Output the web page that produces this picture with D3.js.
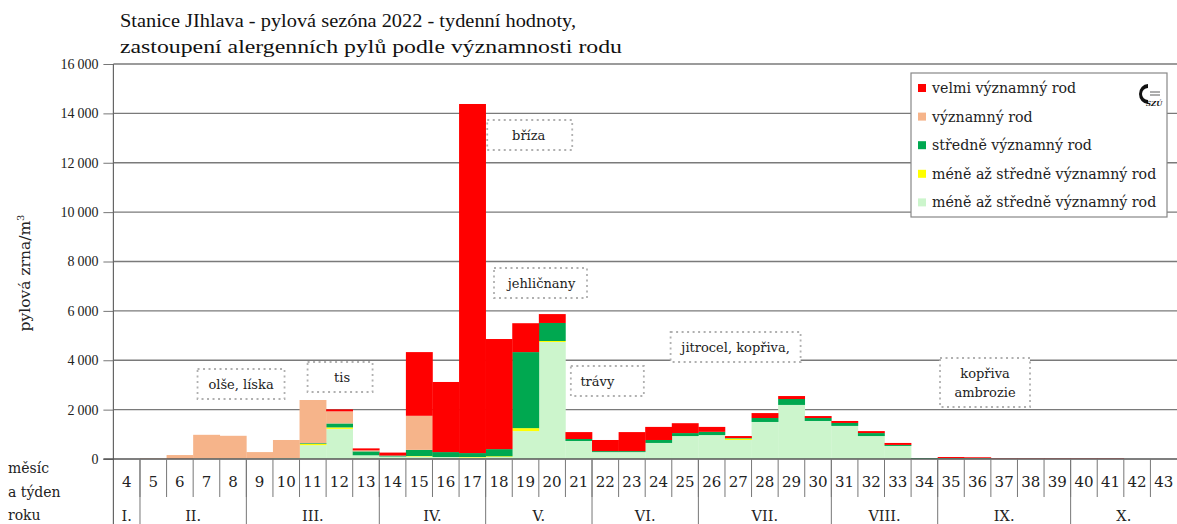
<!DOCTYPE html>
<html><head><meta charset="utf-8">
<script src="https://cdn.jsdelivr.net/npm/d3@7/dist/d3.min.js"></script>
<style>body{margin:0;background:#fff}</style>
</head><body><svg id="c" width="1177" height="524" font-family="DejaVu Serif, serif" style="display:block"></svg>
<script>
const weeks = [4,5,6,7,8,9,10,11,12,13,14,15,16,17,18,19,20,21,22,23,24,25,26,27,28,29,30,31,32,33,34,35,36,37,38,39,40,41,42,43];
const months = [
  {label:"I.", from:4, to:4},{label:"II.", from:5, to:8},{label:"III.", from:9, to:13},
  {label:"IV.", from:14, to:17},{label:"V.", from:18, to:21},{label:"VI.", from:22, to:25},
  {label:"VII.", from:26, to:30},{label:"VIII.", from:31, to:34},{label:"IX.", from:35, to:39},{label:"X.", from:40, to:43}];
// stacked series, bottom to top
const lessToMedium   = [0,0,0,20,20,20,40,560,1220,150,100,100,80,60,80,1130,4740,730,280,280,650,930,970,770,1500,2190,1540,1340,930,530,0,20,20,0,0,0,0,0,0,0];
const lessToMediumY  = [0,0,0,0,0,0,0,50,60,0,0,20,0,20,30,120,40,0,0,0,0,0,0,60,0,0,0,0,0,0,0,0,0,0,0,0,0,0,0,0];
const mediumImportant= [0,0,0,0,0,0,0,30,160,160,40,250,200,160,290,3080,730,80,40,40,120,120,130,20,160,240,120,120,120,40,30,20,20,0,0,0,0,0,0,0];
const important      = [0,20,160,960,920,260,730,1750,490,40,0,1380,0,0,0,0,0,0,0,0,0,0,0,0,0,0,0,0,0,0,0,0,0,0,0,0,0,0,0,0];
const veryImportant  = [0,0,0,0,0,0,0,0,80,80,120,2580,2840,14140,4460,1170,360,280,450,770,530,400,200,80,200,120,80,80,80,80,0,40,30,20,20,20,20,20,0,0];
const yTicks = [0,2000,4000,6000,8000,10000,12000,14000,16000];
const seriesNames = ["velmi významný rod","významný rod","středně významný rod","méně až středně významný rod","méně až středně významný rod"];
const annotations = [
  {text:["olše, líska"], week:8.8},{text:["tis"], week:12.6},{text:["bříza"], week:19.62},
  {text:["jehličnany"], week:20.1},{text:["trávy"], week:22.2},{text:["jitrocel, kopřiva,"], week:27.4},{text:["kopřiva","ambrozie"], week:36.78}];
const annotBase = [389, 382, 140, 288, 386, 352, 378];
const annotBoxW = [87, 65, 85, 93, 73, 130, 90];
const annotBoxShift = [0, -2, 1, -1, 10, 0, 0];

const svg = d3.select("#c");
const pLeft = 113.4, pRight = 1177, pTop = 64, pBottom = 459;
const x = d3.scaleBand().domain(weeks).range([pLeft, pRight]).padding(0);
const y = d3.scaleLinear().domain([0,16000]).range([pBottom, pTop]);

const colors = ["#ccf5cc","#ffff00","#00a850","#f6b48a","#ff0000"];
const keys = ["lg","yl","gr","or","rd"];
const table = weeks.map((w,i)=>({week:w, lg:lessToMedium[i], yl:lessToMediumY[i], gr:mediumImportant[i], or:important[i], rd:veryImportant[i]}));
const stack = d3.stack().keys(keys)(table);

// title
svg.append("text").attr("x",120).attr("y",27).attr("font-size",19).attr("font-family","Liberation Serif, serif").attr("fill","#111")
  .attr("textLength",456).attr("lengthAdjust","spacingAndGlyphs").text("Stanice JIhlava - pylová sezóna 2022 - tydenní hodnoty,");
svg.append("text").attr("x",120).attr("y",53).attr("font-size",19).attr("font-family","Liberation Serif, serif").attr("fill","#111")
  .attr("textLength",502).attr("lengthAdjust","spacingAndGlyphs").text("zastoupení alergenních pylů podle významnosti rodu");

// gridlines + y ticks
const yAxis = d3.axisLeft(y).tickValues(yTicks).tickSize(10).tickFormat(d=>d3.format(",")(d).replace(/,/g,"\u2009"));
const ga = svg.append("g").attr("transform",`translate(${pLeft},0)`).call(yAxis);
ga.attr("font-family",null);
ga.select(".domain").remove();
ga.selectAll(".tick line").attr("stroke","#777");
ga.selectAll(".tick text").attr("font-size",14).attr("font-family","Liberation Serif, serif").attr("fill","#222").attr("x",-15);
svg.append("g").selectAll("line").data(yTicks.filter(d=>d>0)).join("line")
  .attr("x1",pLeft).attr("x2",pRight).attr("y1",d=>y(d)).attr("y2",d=>y(d)).attr("stroke","#7a7a7a").attr("stroke-width",1.3);

// bars
svg.append("g").selectAll("g").data(stack).join("g").attr("fill",(d,i)=>colors[i])
  .selectAll("rect").data(d=>d).join("rect")
  .attr("x",d=>x(d.data.week)).attr("width",x.bandwidth()+0.3)
  .attr("y",d=>y(d[1])).attr("height",d=>Math.max(0,y(d[0])-y(d[1])));

// axis lines
svg.append("line").attr("x1",pLeft).attr("x2",pLeft).attr("y1",pTop).attr("y2",524).attr("stroke","#666").attr("stroke-width",1.2);
svg.append("line").attr("x1",pLeft-10).attr("x2",pRight).attr("y1",pBottom).attr("y2",pBottom).attr("stroke","#555").attr("stroke-width",1.3);

// y title
svg.append("text").attr("transform","translate(30,273) rotate(-90)").attr("text-anchor","middle").attr("font-size",15.5).attr("fill","#222")
  .html('pylová zrna/m<tspan dy="-6" font-size="10">3</tspan>');

// week row
const wk = svg.append("g");
wk.selectAll("line").data(weeks.slice(1)).join("line")
  .attr("x1",d=>x(d)).attr("x2",d=>x(d)).attr("y1",pBottom).attr("y2",497).attr("stroke","#777");
wk.selectAll("text").data(weeks).join("text").attr("x",d=>x(d)+x.bandwidth()/2).attr("y",487).attr("text-anchor","middle")
  .attr("font-size",15).attr("fill","#222").text(d=>d);
// month row
const mg = svg.append("g");
mg.selectAll("line").data(months.slice(1)).join("line")
  .attr("x1",d=>x(d.from)).attr("x2",d=>x(d.from)).attr("y1",pBottom).attr("y2",524).attr("stroke","#777");
mg.selectAll("text").data(months).join("text")
  .attr("x",d=>(x(d.from)+x(d.to)+x.bandwidth())/2).attr("y",521).attr("text-anchor","middle").attr("font-size",14.5).attr("fill","#222").text(d=>d.label);
// row header
[["měsíc",473],["a týden",497],["roku",520]].forEach(([t,yy])=>svg.append("text").attr("x",8).attr("y",yy).attr("font-size",14).attr("fill","#222").text(t));

// annotations
annotations.forEach((a,i)=>{
  const g = svg.append("g");
  const cx = x(Math.floor(a.week)) + (a.week%1)*x.bandwidth();
  const base = annotBase[i];
  const t = g.append("text").attr("text-anchor","middle").attr("font-size",13).attr("fill","#222");
  a.text.forEach((s,j)=>t.append("tspan").attr("x",cx).attr("y",base + j*19).text(s));
  const bb = t.node().getBBox();
  const bw = annotBoxW[i], bcx = cx + annotBoxShift[i];
  g.insert("rect","text").attr("x",bcx-bw/2).attr("y",bb.y-8).attr("width",bw).attr("height",bb.height+15)
    .attr("fill","#fff").attr("stroke","#b0b0b0").attr("stroke-width",1.8).attr("stroke-dasharray","2,3.5");
});

// legend
const lg = svg.append("g");
lg.append("rect").attr("x",911).attr("y",73).attr("width",256).attr("height",144).attr("fill","#fff").attr("stroke","#888").attr("stroke-width",1.2);
const legColors = ["#ff0000","#f6b48a","#00a850","#ffff00","#ccf5cc"];
seriesNames.forEach((n,i)=>{
  const yy = 88 + i*28.6;
  lg.append("rect").attr("x",918).attr("y",yy-4).attr("width",8).attr("height",8).attr("fill",legColors[i]);
  lg.append("text").attr("x",932).attr("y",yy+5).attr("font-size",14.2).attr("fill","#222").text(n);
});
// logo
lg.append("path").attr("d","M1148,84 a9,10 0 1,0 0,20 l0,-4 a6,6 0 1,1 0,-12 z").attr("fill","#111");
lg.append("text").attr("x",1146).attr("y",106).attr("font-size",7).attr("font-weight","bold").attr("font-style","italic").attr("fill","#111").text("SZÚ");
lg.append("line").attr("x1",1150).attr("x2",1160).attr("y1",92).attr("y2",92).attr("stroke","#333").attr("stroke-width",0.8);
lg.append("line").attr("x1",1150).attr("x2",1160).attr("y1",95).attr("y2",95).attr("stroke","#333").attr("stroke-width",0.8);
</script></body></html>
